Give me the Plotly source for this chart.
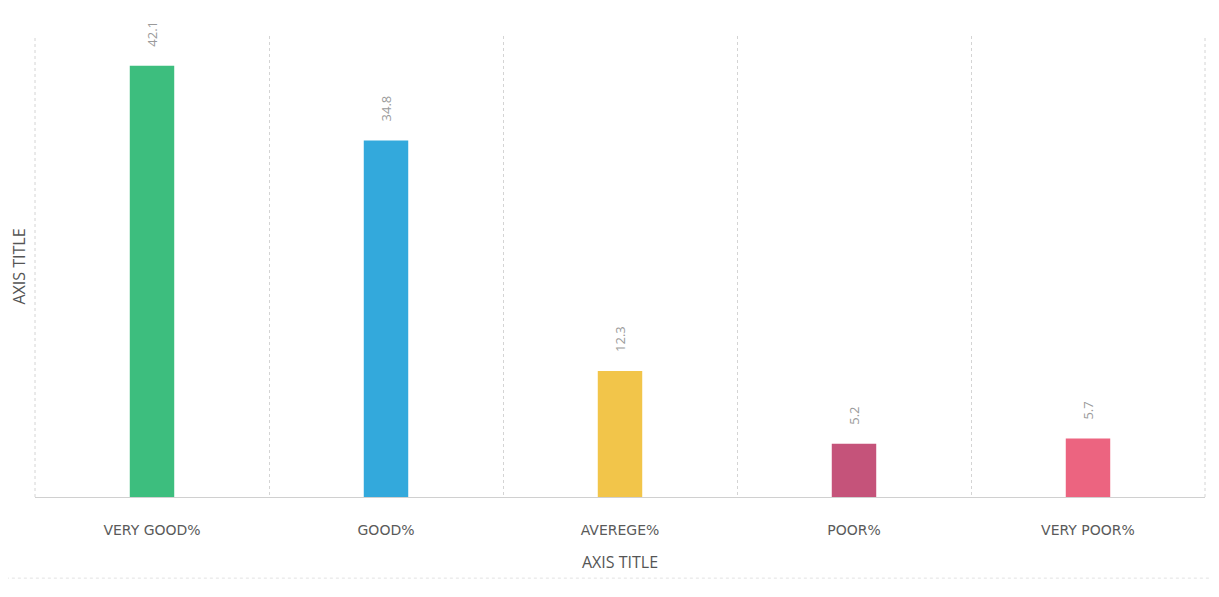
import plotly.graph_objects as go

categories = ["VERY GOOD%", "GOOD%", "AVEREGE%", "POOR%", "VERY POOR%"]
values = [42.1, 34.8, 12.3, 5.2, 5.7]
bar_colors = ["#3DBE7E", "#33A9DC", "#F2C54A", "#C5537A", "#EC6480"]

fig = go.Figure(go.Bar(
    x=categories,
    y=values,
    marker=dict(color=bar_colors, line=dict(width=0)),
    width=0.19,
    cliponaxis=False,
))

# rotated value labels above bars
for c, v in zip(categories, values):
    fig.add_annotation(
        x=c, y=v, text=f"{v:.1f}", showarrow=False,
        textangle=-90, yanchor="bottom", yshift=17,
        font=dict(family="Open Sans, sans-serif", size=13, color="#9a9a9a"),
    )

grid_style = dict(color="#d4d4d4", width=1, dash="dot")
# outer boundary gridlines of the plot area
fig.add_shape(type="line", xref="paper", yref="paper", x0=0, x1=0, y0=0, y1=1, line=grid_style, layer="below")
fig.add_shape(type="line", xref="paper", yref="paper", x0=1, x1=1, y0=0, y1=1, line=grid_style, layer="below")
# faint chart-area border at bottom
fig.add_shape(type="line", xref="paper", yref="paper", x0=-0.03, x1=1.01, y0=-0.176, y1=-0.176,
              line=dict(color="#e2e2e2", width=1, dash="dot"))

fig.update_layout(
    width=1203, height=581,
    margin=dict(l=27, r=6, t=28, b=92, autoexpand=False),
    paper_bgcolor="white", plot_bgcolor="white",
    showlegend=False,
    font=dict(family="Open Sans, sans-serif", color="#666"),
    xaxis=dict(
        type="category",
        tickson="boundaries",
        showgrid=True, gridcolor="#d4d4d4", griddash="dot", gridwidth=1,
        showline=True, linecolor="#d0d0d0", linewidth=1,
        ticks="", ticklabelstandoff=20,
        automargin=False,
        tickfont=dict(family="DejaVu Sans, sans-serif", size=14, color="#5a5a5a"),
        title=dict(text="AXIS TITLE", standoff=20,
                   font=dict(family="Liberation Sans Narrow, Open Sans, sans-serif", size=16, color="#555")),
    ),
    yaxis=dict(
        range=[0, 45],
        automargin=False,
        showgrid=False, showticklabels=False, zeroline=False, ticks="",
        title=dict(text="AXIS TITLE", standoff=4,
                   font=dict(family="Liberation Sans Narrow, Open Sans, sans-serif", size=16, color="#555")),
    ),
)

fig.write_html("out.html")
